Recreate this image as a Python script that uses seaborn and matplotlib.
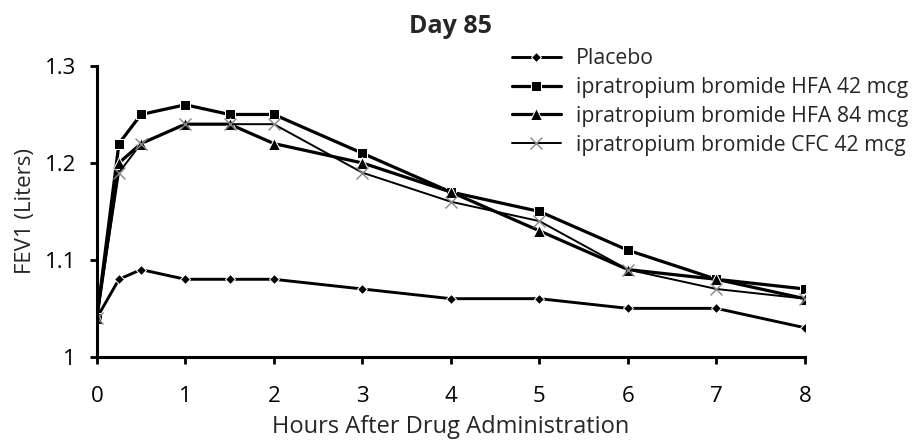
import pandas as pd
import seaborn as sns
import matplotlib.pyplot as plt

# hours after dosing
hours = [0, 0.25, 0.5, 1, 1.5, 2, 3, 4, 5, 6, 7, 8]

placebo = [1.04, 1.08, 1.09, 1.08, 1.08, 1.08, 1.07, 1.06, 1.06, 1.05, 1.05, 1.03]
hfa_42 = [1.04, 1.22, 1.25, 1.26, 1.25, 1.25, 1.21, 1.17, 1.15, 1.11, 1.08, 1.07]
hfa_84 = [1.04, 1.20, 1.22, 1.24, 1.24, 1.22, 1.20, 1.17, 1.13, 1.09, 1.08, 1.06]
cfc_42 = [1.04, 1.19, 1.22, 1.24, 1.24, 1.24, 1.19, 1.16, 1.14, 1.09, 1.07, 1.06]

names = ['Placebo', 'ipratropium bromide HFA 42 mcg',
         'ipratropium bromide HFA 84 mcg', 'ipratropium bromide CFC 42 mcg']

sns.set_style('white')
plt.rcParams['font.family'] = ['Open Sans', 'DejaVu Sans']

fig, ax = plt.subplots(figsize=(9.22, 4.4), dpi=100)
fig.subplots_adjust(left=0.105, right=0.873, top=0.85, bottom=0.189)

# one call per series so the x marker can sit next to filled ones
styles = [
    dict(marker='D', markersize=5.5, linewidth=2.1),
    dict(marker='s', markersize=7.5, linewidth=2.3),
    dict(marker='^', markersize=8, linewidth=2.3),
    dict(marker='x', markersize=8, linewidth=1.4, markeredgecolor='#888888', markeredgewidth=1.0),
]
for name, vals, st in zip(names, [placebo, hfa_42, hfa_84, cfc_42], styles):
    d = pd.DataFrame({'hours': hours, 'fev1': vals})
    sns.lineplot(data=d, x='hours', y='fev1', color='black', label=name, ax=ax, **st)

ax.set_xlim(0, 8)
ax.set_ylim(1.0, 1.3)
ax.set_xticks(range(0, 9))
ax.set_yticks([1.0, 1.1, 1.2, 1.3])
ax.set_yticklabels(['1', '1.1', '1.2', '1.3'])
ax.tick_params(axis='both', labelsize=16, direction='out', length=5, width=2,
               left=True, bottom=True, colors='black')
ax.tick_params(axis='x', pad=16)
ax.tick_params(axis='y', pad=10)
for s in ['top', 'right']:
    ax.spines[s].set_visible(False)
for s in ['left', 'bottom']:
    ax.spines[s].set_linewidth(2.2)
    ax.spines[s].set_color('black')

ax.set_xlabel('Hours After Drug Administration', fontsize=17, labelpad=6)
ax.set_ylabel('FEV1 (Liters)', fontsize=16, labelpad=6)
ax.set_title('Day 85', fontsize=18, fontweight='bold', pad=24)

ax.legend(loc='upper left', bbox_to_anchor=(0.546, 0.91), bbox_transform=fig.transFigure,
          frameon=False, fontsize=15.3, handlelength=2.3, labelspacing=0.37,
          handletextpad=0.7, borderaxespad=0)

plt.savefig('out.png', dpi=100)
